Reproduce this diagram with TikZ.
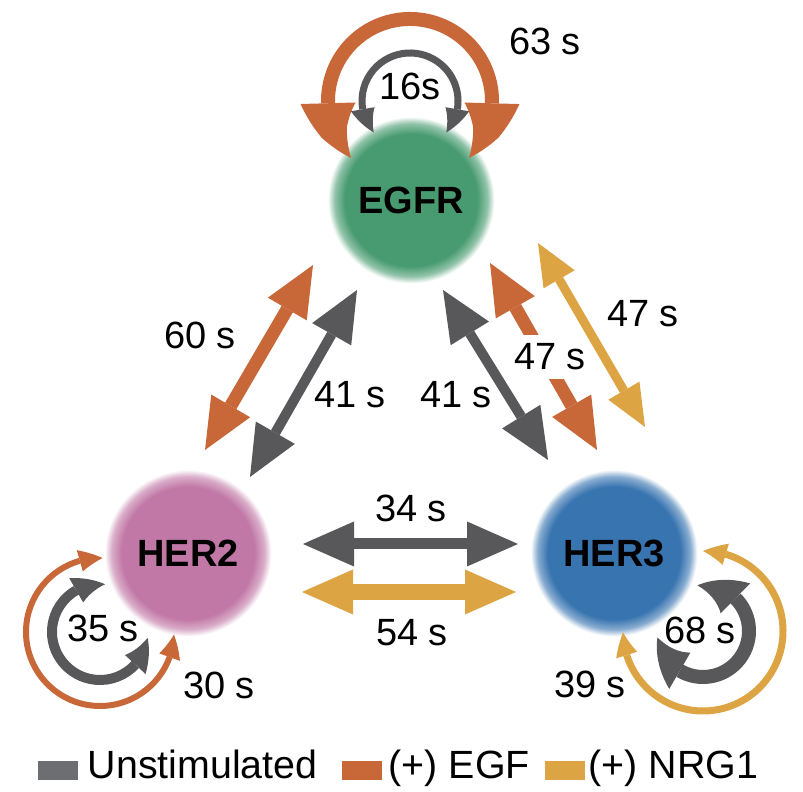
\documentclass[tikz,border=0pt]{standalone}
\usepackage{fontspec}
\setmainfont{Liberation Sans}
\usetikzlibrary{arrows.meta,bending}
\definecolor{cgray}{RGB}{88,88,91}
\definecolor{corange}{RGB}{200,103,56}
\definecolor{cyellow}{RGB}{221,164,68}
\definecolor{cegfr}{RGB}{72,155,112}
\definecolor{cher2}{RGB}{193,120,166}
\definecolor{cher3}{RGB}{56,116,176}
\definecolor{lgray}{RGB}{109,110,113}
\pgfdeclareradialshading{egfrshade}{\pgfpointorigin}{color(0bp)=(cegfr); color(19.5bp)=(cegfr); color(22.5bp)=(cegfr!60!white); color(24.5bp)=(white); color(50bp)=(white)}
\pgfdeclareradialshading{hertwoshade}{\pgfpointorigin}{color(0bp)=(cher2); color(19.5bp)=(cher2); color(22.5bp)=(cher2!60!white); color(24.5bp)=(white); color(50bp)=(white)}
\pgfdeclareradialshading{herthreeshade}{\pgfpointorigin}{color(0bp)=(cher3); color(19.5bp)=(cher3); color(22.5bp)=(cher3!60!white); color(24.5bp)=(white); color(50bp)=(white)}
\tikzset{
  protein/.style={circle, minimum size=1.70cm, inner sep=0pt, shade,
    font=\fontsize{10.8}{13}\selectfont\bfseries},
  lbl/.style={font=\fontsize{10.8}{13}\selectfont, inner sep=0pt},
  leg/.style={font=\fontsize{11.2}{13}\selectfont, inner sep=0pt, anchor=base west},
  legsq/.style={minimum width=0.40cm, minimum height=0.19cm, inner sep=0pt, anchor=south west},
  bigtip/.style={<->, >={Triangle[length=5.1mm,width=4.5mm,line width=0pt]}},
  ytip/.style={<->, >={Triangle[length=4.2mm,width=3.6mm,line width=0pt]}},
  egfrtip/.style={<->, >={Triangle[bend,length=6.2mm,width=5.5mm,line width=0pt]}},
  smalltip/.style={<->, >={Triangle[bend,length=2.6mm,width=2.4mm,line width=0pt]}},
  thintip/.style={<->, >={Triangle[bend,length=2.3mm,width=2.2mm,line width=0pt]}},
  midtip/.style={<->, >={Triangle[bend,length=3mm,width=2.8mm,line width=0pt]}},
  fattip/.style={<->, >={Triangle[bend,length=4.2mm,width=4.2mm,line width=0pt]}},
}
\begin{document}
\begin{tikzpicture}
\useasboundingbox (0,0) rectangle (8.03,7.92);
% proteins
\node[protein, shading=egfrshade] (egfr) at (4.11,5.92) {EGFR};
\node[protein, shading=hertwoshade] (her2) at (1.88,2.39) {HER2};
\node[protein, shading=herthreeshade] (her3) at (6.14,2.39) {HER3};
% end points
\coordinate (lo1) at (3.13,5.27); \coordinate (lo2) at (2.05,3.42);
\coordinate (lg1) at (3.57,5.02); \coordinate (lg2) at (2.50,3.15);
\coordinate (rg1) at (4.43,5.02); \coordinate (rg2) at (5.48,3.32);
\coordinate (ro1) at (4.90,5.29); \coordinate (ro2) at (5.97,3.42);
\coordinate (ry1) at (5.38,5.49); \coordinate (ry2) at (6.45,3.65);
\coordinate (hg1) at (3.03,2.48); \coordinate (hg2) at (5.18,2.48);
\coordinate (hy1) at (3.02,2.00); \coordinate (hy2) at (5.16,2.00);
\coordinate (egfrloop) at (4.10,6.91);
\coordinate (her2loop) at (1.00,1.60);
\coordinate (her3loop) at (7.03,1.61);
% self loops
\draw[corange, line width=0.14cm, egfrtip] ([shift={(-44:0.82)}]egfrloop) arc[start angle=-44, end angle=224, radius=0.82];
\draw[cgray, line width=0.07cm, smalltip] ([shift={(-41:0.48)}]egfrloop) arc[start angle=-41, end angle=221, radius=0.48];
\draw[corange, line width=0.06cm, thintip] ([shift={(88:0.74)}]her2loop) arc[start angle=88, end angle=358, radius=0.74];
\draw[cgray, line width=0.10cm, midtip] ([shift={(84:0.48)}]her2loop) arc[start angle=84, end angle=353, radius=0.48];
\draw[cyellow, line width=0.07cm, thintip] ([shift={(181:0.80)}]her3loop) arc[start angle=181, end angle=450, radius=0.80];
\draw[cgray, line width=0.14cm, fattip] ([shift={(188:0.46)}]her3loop) arc[start angle=188, end angle=457, radius=0.46];
% straight arrows
\draw[corange, line width=0.13cm, bigtip] (lo1) -- (lo2);
\draw[cgray, line width=0.10cm, bigtip] (lg1) -- (lg2);
\draw[cgray, line width=0.10cm, bigtip] (rg1) -- (rg2);
\draw[corange, line width=0.13cm, bigtip] (ro1) -- (ro2);
\node[lbl, fill=white, inner ysep=0.09cm] (l47a) at (5.50,4.35) {47 s};
\draw[cyellow, line width=0.09cm, ytip] (ry1) -- (ry2);
\draw[cgray, line width=0.11cm, bigtip] (hg1) -- (hg2);
\draw[cyellow, line width=0.16cm, bigtip] (hy1) -- (hy2);
% labels
\node[lbl] (l63) at (5.45,7.51) {63 s};
\node[lbl] (l16) at (4.10,7.06) {16s};
\node[lbl] (l60) at (2.00,4.57) {60 s};
\node[lbl] (l41a) at (3.50,3.97) {41 s};
\node[lbl] (l41b) at (4.56,3.97) {41 s};
\node[lbl] (l47b) at (6.43,4.78) {47 s};
\node[lbl] (l34) at (4.11,2.84) {34 s};
\node[lbl] (l54) at (4.12,1.59) {54 s};
\node[lbl] (l35) at (1.03,1.64) {35 s};
\node[lbl] (l30) at (2.19,1.07) {30 s};
\node[lbl] (l68) at (7.00,1.62) {68 s};
\node[lbl] (l39) at (5.90,1.08) {39 s};
% legend
\node[legsq, fill=lgray] (sq1) at (0.37,0.11) {};
\node[leg] (t1) at (0.87,0.13) {Unstimulated};
\node[legsq, fill=corange] (sq2) at (3.41,0.11) {};
\node[leg] (t2) at (3.88,0.13) {(+) EGF};
\node[legsq, fill=cyellow] (sq3) at (5.44,0.11) {};
\node[leg] (t3) at (5.88,0.13) {(+) NRG1};
\end{tikzpicture}
\end{document}
